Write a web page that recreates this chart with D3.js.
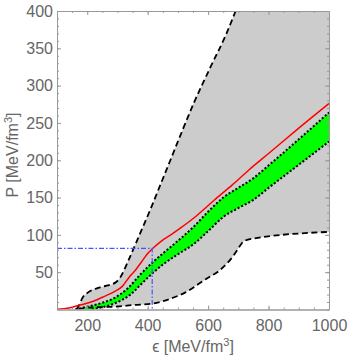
<!DOCTYPE html>
<html>
<head>
<meta charset="utf-8">
<script src="https://cdn.jsdelivr.net/npm/d3@7"></script>
<style>
  body { margin: 0; background: #fff; }
  svg text { font-family: "Liberation Sans", Arial, sans-serif; }
</style>
</head>
<body>
<svg id="chart" width="349" height="359"></svg>
<script>
// ---- data: [epsilon (MeV/fm^3), P (MeV/fm^3)] ----
const upperBound = [[165,0],[172,5],[185,16],[203,23],[236,29],[293,36],[309,43],[342,71],[376,103],
  [409,134],[432,157],[475,200],[510,235],[552,276],[608,325],[661,370],[691,400],[730,440]];
const lowerBound = [[170,0],[190,2],[233,3],[300,4],[352,6],[416,8],[449,11],[465,13],[525,23],
  [597,42],[630,50],[663,62],[680,70],[697,80],[712,89],[735,94],[1000,104]];
const bandUpper = [[160,0],[203,4],[250,9],[283,14],[336,29],[376,47],[416,63],[453,76],[500,92],
  [550,110],[600,131],[650,150],[700,163],[750,176],[800,193],[900,228],[1000,264]];
const bandLower = [[215,0],[226,1],[283,7],[349,22],[376,33],[420,50],[453,61],[500,74],[550,87],
  [600,105],[650,124],[700,136],[750,147],[800,163],[900,194],[1000,225]];
const redCurve = [[100,0.5],[140,2],[176,6],[220,11],[259,18],[290,24],[316,31],[340,44],[360,53],
  [380,64],[400,75],[420,83],[440,90],[453,94],[480,101],[508,109],[560,125],[619,146],[680,167],
  [735,187],[800,209],[900,243],[1000,276]];
const markerPoint = [415, 82];

const xTicks = [200, 400, 600, 800, 1000];
const yTicks = [50, 100, 150, 200, 250, 300, 350, 400];

const svg = d3.select("#chart");
const mLeft = 57, mRight = 329, mTop = 11, mBottom = 309.5;

const x = d3.scaleLinear().domain([100, 1000]).range([mLeft, mRight]);
const y = d3.scaleLinear().domain([0, 400]).range([mBottom, mTop]);

svg.append("defs").append("clipPath").attr("id", "plotClip")
  .append("rect").attr("x", mLeft).attr("y", mTop)
  .attr("width", mRight - mLeft).attr("height", mBottom - mTop);

const plot = svg.append("g").attr("clip-path", "url(#plotClip)");

const line = d3.line().x(d => x(d[0])).y(d => y(d[1])).curve(d3.curveMonotoneX);

// closed region between two curves (second one walked backwards)
function region(a, b) {
  return line(a) + line(b.slice().reverse()).replace(/^M/, "L") + "Z";
}

// gray allowed region
plot.append("path").attr("d", region(upperBound.concat([[1000, 460]]), lowerBound))
  .attr("fill", "#cccccc");

// green band
plot.append("path").attr("d", region(bandUpper, bandLower)).attr("fill", "#00ff00");

// dashed bounds
[upperBound, lowerBound].forEach(arr => {
  plot.append("path").attr("d", line(arr))
    .attr("fill", "none").attr("stroke", "#000")
    .attr("stroke-width", 1.8).attr("stroke-dasharray", "6,3.5");
});

// dotted band edges
[bandUpper, bandLower].forEach(arr => {
  plot.append("path").attr("d", line(arr))
    .attr("fill", "none").attr("stroke", "#000")
    .attr("stroke-width", 2).attr("stroke-dasharray", "2,2");
});

// red curve
plot.append("path").attr("d", line(redCurve))
  .attr("fill", "none").attr("stroke", "#ff0000").attr("stroke-width", 1.5);

// blue dash-dot guide
plot.append("path")
  .attr("d", `M${x(100)},${y(markerPoint[1])}H${x(markerPoint[0])}V${y(0)}`)
  .attr("fill", "none").attr("stroke", "#4455ff").attr("stroke-width", 1.2)
  .attr("stroke-dasharray", "5,2,1.5,2");

// ---- frame and ticks ----
const frameColor = "#999";
const xMinor = d3.range(100, 1001, 50);
const yMinor = d3.range(0, 401, 10);
const fmt = d3.format("d");

function styleAxis(g) {
  g.select(".domain").attr("stroke", frameColor);
  g.selectAll(".tick line").attr("stroke", frameColor);
  g.selectAll(".tick text").attr("fill", "#666").style("font-size", "16px");
}

svg.append("g").attr("transform", `translate(0,${mBottom})`)
  .call(d3.axisBottom(x).tickValues(xMinor).tickFormat("").tickSizeInner(-2).tickSizeOuter(0)).call(styleAxis);
svg.append("g").attr("transform", `translate(0,${mBottom})`)
  .call(d3.axisBottom(x).tickValues(xTicks).tickFormat(fmt).tickSizeInner(-4).tickSizeOuter(0).tickPadding(10)).call(styleAxis);
svg.append("g").attr("transform", `translate(0,${mTop})`)
  .call(d3.axisTop(x).tickValues(xMinor).tickFormat("").tickSizeInner(-2).tickSizeOuter(0)).call(styleAxis);
svg.append("g").attr("transform", `translate(0,${mTop})`)
  .call(d3.axisTop(x).tickValues(xTicks).tickFormat("").tickSizeInner(-4).tickSizeOuter(0)).call(styleAxis);

svg.append("g").attr("transform", `translate(${mLeft},0)`)
  .call(d3.axisLeft(y).tickValues(yMinor).tickFormat("").tickSizeInner(-2).tickSizeOuter(0)).call(styleAxis);
svg.append("g").attr("transform", `translate(${mLeft},0)`)
  .call(d3.axisLeft(y).tickValues(yTicks).tickFormat(fmt).tickSizeInner(-4).tickSizeOuter(0).tickPadding(4)).call(styleAxis);
svg.append("g").attr("transform", `translate(${mRight},0)`)
  .call(d3.axisRight(y).tickValues(yMinor).tickFormat("").tickSizeInner(-2).tickSizeOuter(0)).call(styleAxis);
svg.append("g").attr("transform", `translate(${mRight},0)`)
  .call(d3.axisRight(y).tickValues(yTicks).tickFormat("").tickSizeInner(-4).tickSizeOuter(0)).call(styleAxis);

// axis titles
const xTitle = svg.append("text").attr("x", 193).attr("y", 352)
  .attr("text-anchor", "middle").attr("fill", "#666").style("font-size", "16px");
xTitle.append("tspan").text("ϵ [MeV/fm");
xTitle.append("tspan").attr("dy", -6).style("font-size", "11px").text("3");
xTitle.append("tspan").attr("dy", 6).text("]");

const yTitle = svg.append("text").attr("transform", "translate(18,155) rotate(-90)")
  .attr("text-anchor", "middle").attr("fill", "#666").style("font-size", "16px");
yTitle.append("tspan").text("P [MeV/fm");
yTitle.append("tspan").attr("dy", -6).style("font-size", "11px").text("3");
yTitle.append("tspan").attr("dy", 6).text("]");
</script>
</body>
</html>
